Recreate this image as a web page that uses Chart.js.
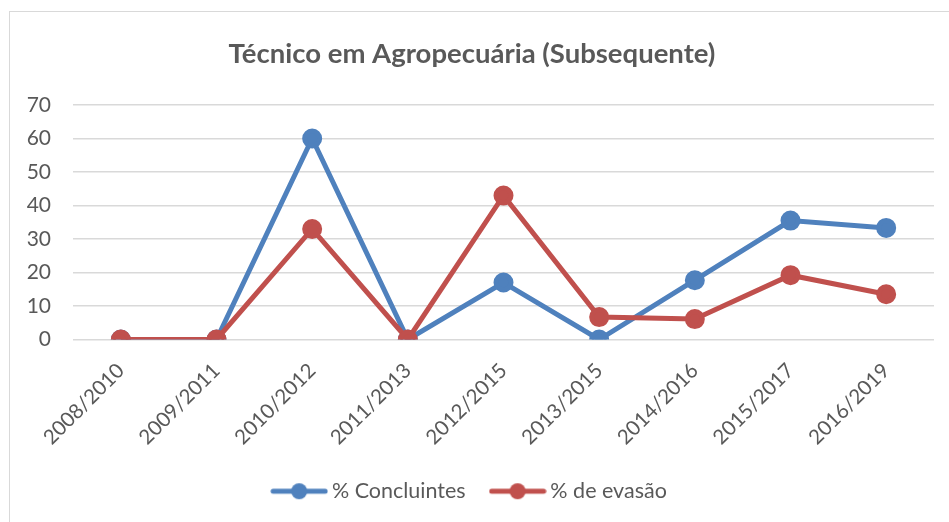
<!DOCTYPE html>
<html>
<head>
<meta charset="utf-8">
<script src="https://cdn.jsdelivr.net/npm/chart.js@4/dist/chart.umd.min.js"></script>
<style>
  html, body { margin: 0; padding: 0; background: #fff; }
  #wrap { position: relative; width: 949px; height: 522px; }
  #frame { position: absolute; left: 9px; top: 11px; right: -5px; bottom: -5px; border-left: 1.5px solid #d9d9d9; border-top: 1.5px solid #d9d9d9; pointer-events: none; }
</style>
</head>
<body>
<div id="wrap">
  <canvas id="c" width="949" height="522"></canvas>
  <div id="frame"></div>
</div>
<script>
const categories = ['2008/2010','2009/2011','2010/2012','2011/2013','2012/2015','2013/2015','2014/2016','2015/2017','2016/2019'];
const concluintes = [0, 0, 60, 0, 17, 0, 17.7, 35.5, 33.3];
const evasao = [0, 0, 33, 0, 43, 6.7, 6.1, 19.2, 13.5];
const yTicks = { min: 0, max: 70, step: 10 };
const seriesNames = ['% Concluintes', '% de evasão'];

const BLUE = '#4F81BD', RED = '#C0504D', TEXT = '#595959', FONT = 'Lato';

function legendIcon(color) {
  const cv = document.createElement('canvas');
  cv.width = 58; cv.height = 18;
  const g = cv.getContext('2d');
  g.strokeStyle = color; g.lineWidth = 5; g.lineCap = 'round';
  g.beginPath(); g.moveTo(3, 9); g.lineTo(55, 9); g.stroke();
  g.fillStyle = color; g.beginPath(); g.arc(29, 9, 8, 0, Math.PI * 2); g.fill();
  return cv;
}

new Chart(document.getElementById('c'), {
  type: 'line',
  data: {
    labels: categories,
    datasets: [
      { label: seriesNames[0], data: concluintes, borderColor: BLUE, backgroundColor: BLUE, order: 1,
        borderWidth: 5, pointRadius: 7.5, pointHoverRadius: 7.5, pointStyle: 'circle', tension: 0,
        pointBackgroundColor: BLUE, pointBorderColor: BLUE },
      { label: seriesNames[1], data: evasao, borderColor: RED, backgroundColor: RED, order: 0,
        borderWidth: 5, pointRadius: 7.5, pointHoverRadius: 7.5, pointStyle: 'circle', tension: 0,
        pointBackgroundColor: RED, pointBorderColor: RED }
    ]
  },
  options: {
    responsive: false,
    animation: false,
    layout: { padding: { left: 10, right: 15, top: 12, bottom: 10 } },
    plugins: {
      title: {
        display: true, text: 'Técnico em Agropecuária (Subsequente)', color: TEXT,
        font: { family: FONT, size: 27.5, weight: 'bold' },
        padding: { top: 26, bottom: 34 }
      },
      legend: {
        position: 'bottom',
        labels: {
          color: TEXT, font: { family: FONT, size: 21.5 },
          usePointStyle: true,
          pointStyleWidth: 44,
          generateLabels: (chart) => chart.data.datasets.map((ds, i) => ({
            text: ds.label, pointStyle: legendIcon(ds.borderColor), fontColor: TEXT,
            datasetIndex: i, hidden: false, lineWidth: 0, strokeStyle: ds.borderColor, fillStyle: ds.borderColor
          })),
          padding: 30
        }
      },
      tooltip: { enabled: false }
    },
    scales: {
      x: {
        offset: true,
        grid: { display: false, drawTicks: false },
        border: { display: false },
        ticks: { color: TEXT, font: { family: FONT, size: 20.5 }, maxRotation: 45, minRotation: 45, padding: 19 },
        afterFit: (s) => { s.height = 111; }
      },
      y: {
        min: yTicks.min, max: yTicks.max,
        grid: { color: '#d9d9d9', lineWidth: 1.5, drawTicks: false },
        border: { display: false },
        ticks: { stepSize: yTicks.step, color: TEXT, font: { family: FONT, size: 21 }, padding: 22 },
        afterFit: (s) => { s.width = 63; }
      }
    }
  }
});
</script>
</body>
</html>
